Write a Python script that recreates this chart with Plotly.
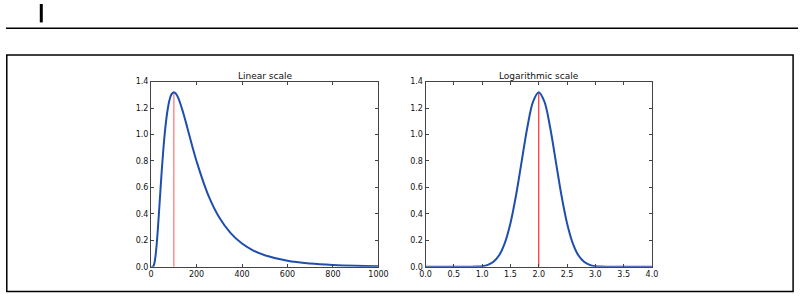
import plotly.graph_objects as go

# Linear-scale curve
lin_x = [1, 5, 10, 15, 20, 25, 30, 35, 40, 45, 50, 60, 70, 80, 90, 100, 110, 120, 140, 160, 180,
         200, 250, 300, 350, 400, 450, 500, 600, 700, 800, 900, 1000]
lin_y = [0.0, 0.0001, 0.005, 0.030, 0.088, 0.176, 0.289, 0.416, 0.548, 0.676, 0.798, 1.005, 1.155,
         1.253, 1.305, 1.320, 1.307, 1.275, 1.172, 1.048, 0.919, 0.798, 0.548, 0.373, 0.255, 0.176,
         0.123, 0.088, 0.046, 0.025, 0.014, 0.008, 0.005]

# Log-scale curve
log_x = [0.0, 0.5, 0.8, 0.9, 1.0, 1.1, 1.2, 1.3, 1.4, 1.5, 1.6, 1.7, 1.8, 1.9, 2.0,
         2.1, 2.2, 2.3, 2.4, 2.5, 2.6, 2.7, 2.8, 2.9, 3.0, 3.1, 3.2, 3.5, 4.0]
log_y = [0.0, 0.0, 0.0004, 0.0016, 0.005, 0.015, 0.038, 0.087, 0.179, 0.329, 0.543, 0.801, 1.057,
         1.249, 1.320, 1.249, 1.057, 0.801, 0.543, 0.329, 0.179, 0.087, 0.038, 0.015, 0.005,
         0.0016, 0.0004, 0.0, 0.0]

peak_lin_x = [100, 100]
peak_log_x = [2.0, 2.0]
peak_y = [0.0, 1.32]

titles = ["Linear scale", "Logarithmic scale"]
lin_ticks = [0, 200, 400, 600, 800, 1000]
log_ticks = [0.0, 0.5, 1.0, 1.5, 2.0, 2.5, 3.0, 3.5, 4.0]
y_ticks = [0.0, 0.2, 0.4, 0.6, 0.8, 1.0, 1.2, 1.4]

W, H = 808, 298
BLUE = "#1f4fae"
FONT = "DejaVu Sans"

fig = go.Figure()
fig.add_trace(go.Scatter(x=peak_lin_x, y=peak_y, mode="lines",
                         line=dict(color="rgba(255,60,60,0.55)", width=1.6),
                         xaxis="x", yaxis="y", showlegend=False))
fig.add_trace(go.Scatter(x=lin_x, y=lin_y, mode="lines", line_shape="spline",
                         line=dict(color=BLUE, width=2), xaxis="x", yaxis="y", showlegend=False))
fig.add_trace(go.Scatter(x=peak_log_x, y=peak_y, mode="lines",
                         line=dict(color="#ff2a2a", width=1.2),
                         xaxis="x2", yaxis="y2", showlegend=False))
fig.add_trace(go.Scatter(x=log_x, y=log_y, mode="lines", line_shape="spline",
                         line=dict(color=BLUE, width=2), xaxis="x2", yaxis="y2", showlegend=False))

ax_common = dict(showline=True, linecolor="#444", linewidth=1, mirror="ticks",
                 ticks="inside", ticklen=3, tickcolor="#444", showgrid=False, zeroline=False,
                 tickfont=dict(family=FONT, size=8, color="#111"))

ydom = [1 - 271 / H, 1 - 80 / H]
fig.update_layout(
    width=W, height=H, margin=dict(l=0, r=0, t=0, b=0),
    paper_bgcolor="white", plot_bgcolor="white",
    xaxis=dict(domain=[148 / W, 380 / W], range=[0, 1000], tickvals=lin_ticks,
               ticktext=[str(v) for v in lin_ticks], anchor="y", **ax_common),
    yaxis=dict(domain=ydom, range=[0, 1.4], tickvals=y_ticks,
               ticktext=[f"{v:.1f}" for v in y_ticks], anchor="x", **ax_common),
    xaxis2=dict(domain=[428 / W, 659 / W], range=[0, 4], tickvals=log_ticks,
                ticktext=[f"{v:.1f}" for v in log_ticks], anchor="y2", **ax_common),
    yaxis2=dict(domain=ydom, range=[0, 1.4], tickvals=y_ticks,
                ticktext=[f"{v:.1f}" for v in y_ticks], anchor="x2", **ax_common),
    showlegend=False,
)

# Subplot titles
for cx, t in zip([264, 543.5], titles):
    fig.add_annotation(x=cx / W, y=1 - 74 / H, xref="paper", yref="paper", text=t,
                       showarrow=False, xanchor="center", yanchor="middle",
                       font=dict(family=FONT, size=9, color="#111"))

# Page decorations: header bar, rule, outer frame
fig.add_shape(type="line", xref="paper", yref="paper", x0=36 / W, x1=36 / W,
              y0=1 - 0 / H, y1=1 - 19 / H, line=dict(color="black", width=3))
fig.add_shape(type="line", xref="paper", yref="paper", x0=0, x1=1,
              y0=1 - 25 / H, y1=1 - 25 / H, line=dict(color="black", width=1.5))
fig.add_shape(type="rect", xref="paper", yref="paper", x0=0.8 / W, x1=803 / W,
              y0=1 - 296.5 / H, y1=1 - 52.5 / H, line=dict(color="black", width=1.5))

fig.write_html("out.html",
               post_script="document.body.style.margin='0';document.body.style.overflow='hidden';")
